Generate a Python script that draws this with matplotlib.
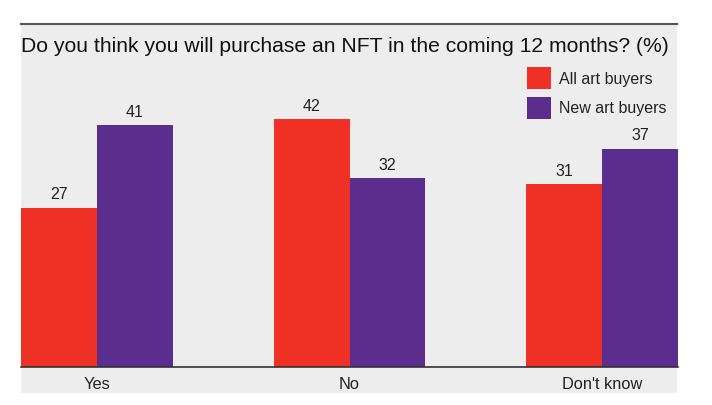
import matplotlib

matplotlib.use('Agg')
import matplotlib.pyplot as plt  # noqa: E402
from matplotlib.patches import Rectangle, Patch  # noqa: E402
import numpy as np  # noqa: E402

categories = ["Yes", "No", "Don't know"]
all_buyers = [27, 42, 31]
new_buyers = [41, 32, 37]
series_names = ["All art buyers", "New art buyers"]

RED = '#ee3124'
PURPLE = '#5b2d8c'
BG = '#ededee'
TXT = '#222222'

plt.rcParams['font.family'] = ['Liberation Sans', 'DejaVu Sans']

fig = plt.figure(figsize=(7.12, 4.05), dpi=100)
fig.patch.set_facecolor('white')

# grey panel behind everything
fig.patches.append(Rectangle((21 / 712, 12 / 405), 656 / 712, 369 / 405,
                             transform=fig.transFigure, facecolor=BG,
                             edgecolor='none', zorder=-5))
fig.lines.append(plt.Line2D([21 / 712, 677 / 712], [381 / 405, 381 / 405],
                            transform=fig.transFigure, color='#555555', lw=1.5, zorder=-4))

ax = fig.add_axes([21 / 712, 38 / 405, 657 / 712, 343 / 405])
ax.set_facecolor('none')

x = np.arange(len(categories))
w = 0.3
ax.bar(x - w / 2, all_buyers, w, color=RED, zorder=2)
ax.bar(x + w / 2, new_buyers, w, color=PURPLE, zorder=2)

for xi, v in zip(x, all_buyers):
    ax.text(xi - w / 2, v + 0.9, str(v), ha='center', va='bottom', fontsize=11.5, color=TXT)
for xi, v in zip(x, new_buyers):
    ax.text(xi + w / 2, v + 0.9, str(v), ha='center', va='bottom', fontsize=11.5, color=TXT)

ax.set_xlim(-0.3, 2.3)
ax.set_ylim(0, 58.1)
ax.set_xticks(x)
ax.set_xticklabels(categories, fontsize=11.8, color=TXT)
ax.tick_params(axis='x', length=0, pad=7)
ax.set_yticks([])
for s in ['top', 'left', 'right']:
    ax.spines[s].set_visible(False)
ax.spines['bottom'].set_color('#333333')
ax.spines['bottom'].set_linewidth(1.2)

fig.text(21 / 712, 1 - 46 / 405, "Do you think you will purchase an NFT in the coming 12 months? (%)",
         ha='left', va='center', fontsize=15.2, color='#111111')

handles = [Patch(facecolor=RED, label=series_names[0]),
           Patch(facecolor=PURPLE, label=series_names[1])]
fig.legend(handles=handles, loc='upper left', bbox_to_anchor=(513 / 712, 1 - 53 / 405),
           frameon=False, fontsize=11.5, handlelength=1.45, handleheight=1.75,
           handletextpad=0.5, labelspacing=0.45, labelcolor=TXT)

fig.savefig('out.png', dpi=100)
plt.close(fig)
